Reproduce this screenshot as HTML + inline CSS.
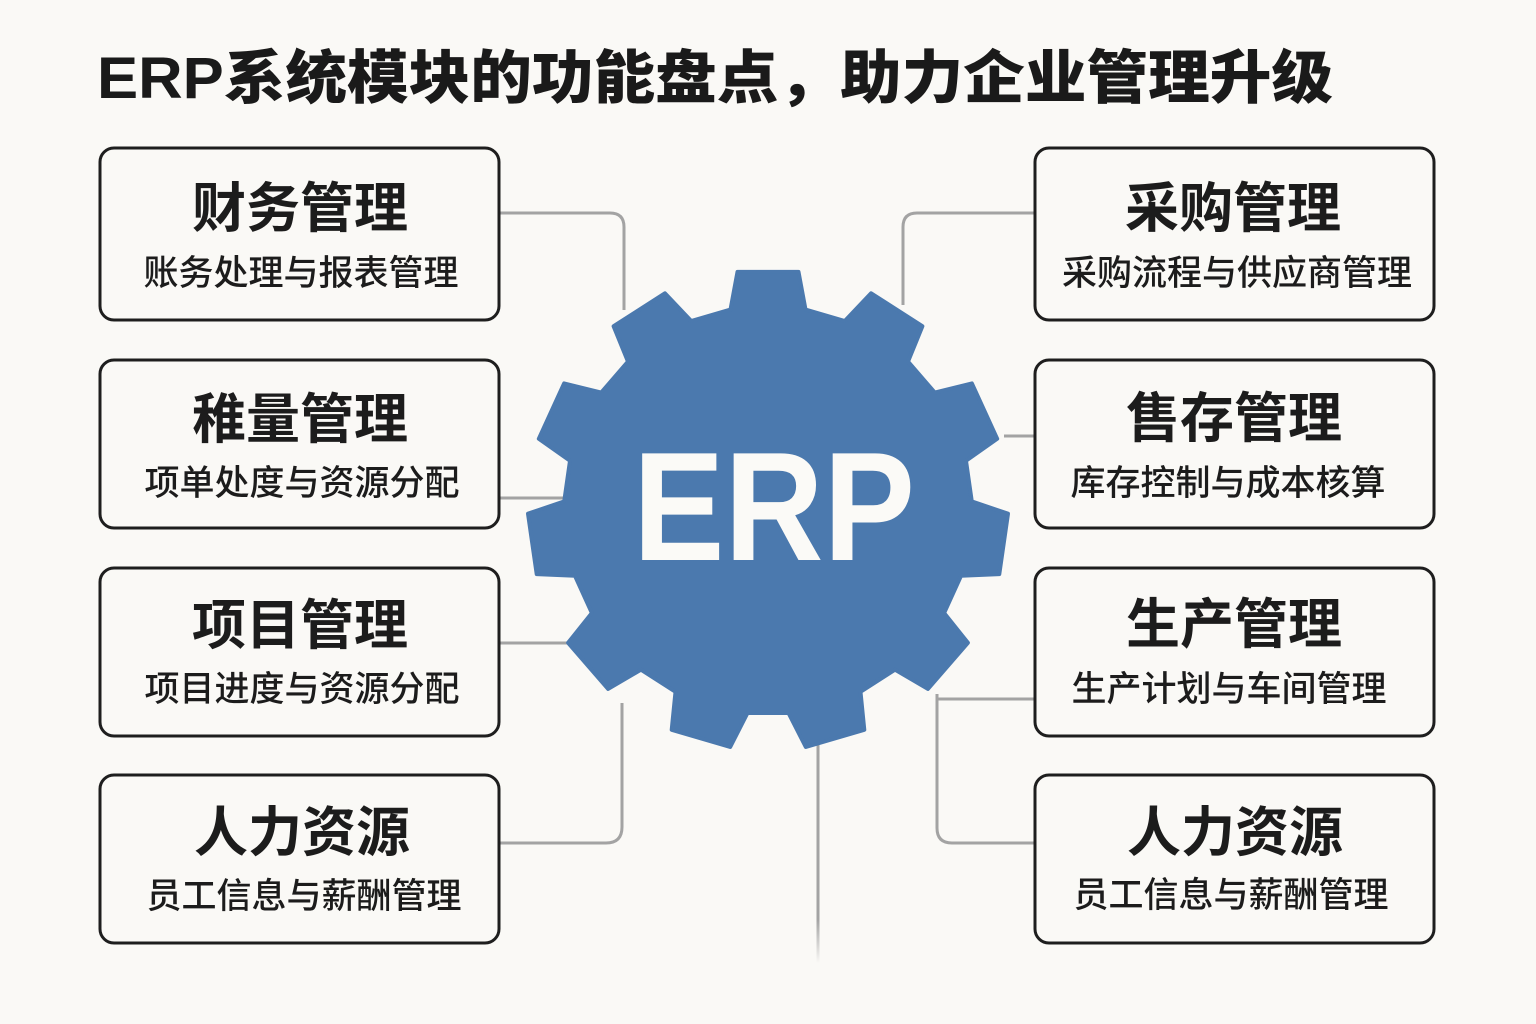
<!DOCTYPE html>
<html>
<head>
<meta charset="utf-8">
<style>
  html, body { margin: 0; padding: 0; background: #faf9f6; }
  body { width: 1536px; height: 1024px; overflow: hidden; }
  svg { display: block; }
  .bt { font-family: "Liberation Sans", "Noto Sans CJK SC", sans-serif; font-weight: 700; font-size: 54px; fill: #1c1c1c; }
  .st { font-family: "Liberation Sans", "Noto Sans CJK SC", sans-serif; font-weight: 500; font-size: 35px; fill: #1c1c1c; }
</style>
</head>
<body>
<svg width="1536" height="1024" viewBox="0 0 1536 1024" xmlns="http://www.w3.org/2000/svg">
  <defs>
    <linearGradient id="fade" x1="0" y1="0" x2="0" y2="1">
      <stop offset="0" stop-color="#a3a3a3" stop-opacity="1"/>
      <stop offset="0.8" stop-color="#a3a3a3" stop-opacity="1"/>
      <stop offset="1" stop-color="#a3a3a3" stop-opacity="0"/>
    </linearGradient>
  </defs>
  <rect x="0" y="0" width="1536" height="1024" fill="#faf9f6"/>

  <!-- Title -->
  <text x="97" y="98" textLength="1236" lengthAdjust="spacingAndGlyphs"
        style="font-family:'Liberation Sans','Noto Sans CJK SC',sans-serif;font-weight:900;font-size:58px;fill:#1a1a1a;">ERP系统模块的功能盘点，助力企业管理升级</text>

  <!-- Connectors -->
  <g fill="none" stroke="#a3a3a3" stroke-width="3" stroke-linecap="butt">
    <path d="M500 213 H610 Q624 213 624 227 V310"/>
    <path d="M500 498 H564"/>
    <path d="M500 643 H585"/>
    <path d="M500 843 H606 Q622 843 622 827 V703"/>
    <path d="M1035 213 H917 Q903 213 903 227 V305"/>
    <path d="M1004 436 H1035"/>
    <path d="M1035 699 H937"/>
    <path d="M937 694 V828 Q937 843 952 843 H1035"/>
  </g>
  <rect x="816.5" y="745" width="3" height="218" fill="url(#fade)"/>

  <!-- Gear -->
  <polygon fill="#4b79ae" stroke="#4b79ae" stroke-width="4" stroke-linejoin="round"
    points="730.5,309.5 737.5,271.9 798.5,271.9 805.5,309.5
            844.8,321.0 871.1,293.3 922.4,326.2 908.0,361.6
            934.8,392.6 971.9,383.4 997.2,438.8 966.0,460.8
            971.8,501.4 1008.0,513.7 999.3,574.1 961.1,575.7
            944.1,613.0 967.9,642.8 927.9,688.9 895.0,669.7
            860.5,691.8 864.3,729.8 805.8,747.0 788.5,713.0
            747.5,713.0 730.2,747.0 671.7,729.8 675.5,691.8
            641.0,669.7 608.1,688.9 568.1,642.8 591.9,613.0
            574.9,575.7 536.7,574.1 528.0,513.7 564.2,501.4
            570.0,460.8 538.8,438.8 564.1,383.4 601.2,392.6
            628.0,361.6 613.6,326.2 664.9,293.3 691.2,321.0"/>
  <text x="774" y="560" text-anchor="middle" textLength="282" lengthAdjust="spacingAndGlyphs"
        style="font-family:'Liberation Sans',sans-serif;font-weight:700;font-size:155px;fill:#fbfaf7;">ERP</text>

  <!-- Boxes -->
  <g fill="#faf9f6" stroke="#1e1e1e" stroke-width="3">
    <rect x="100" y="148" width="399" height="172" rx="14"/>
    <rect x="100" y="360" width="399" height="168" rx="14"/>
    <rect x="100" y="568" width="399" height="168" rx="14"/>
    <rect x="100" y="775" width="399" height="168" rx="14"/>
    <rect x="1035" y="148" width="399" height="172" rx="14"/>
    <rect x="1035" y="360" width="399" height="168" rx="14"/>
    <rect x="1035" y="568" width="399" height="168" rx="14"/>
    <rect x="1035" y="775" width="399" height="168" rx="14"/>
  </g>

  <!-- Left box texts -->
  <text class="bt" x="300" y="227" text-anchor="middle">财务管理</text>
  <text class="st" x="301" y="285" text-anchor="middle">账务处理与报表管理</text>

  <text class="bt" x="300" y="438" text-anchor="middle">稚量管理</text>
  <text class="st" x="302" y="495" text-anchor="middle">项单处度与资源分配</text>

  <text class="bt" x="300" y="644" text-anchor="middle">项目管理</text>
  <text class="st" x="302" y="701" text-anchor="middle">项目进度与资源分配</text>

  <text class="bt" x="302" y="851" text-anchor="middle">人力资源</text>
  <text class="st" x="304" y="908" text-anchor="middle">员工信息与薪酬管理</text>

  <!-- Right box texts -->
  <text class="bt" x="1233" y="227" text-anchor="middle">采购管理</text>
  <text class="st" x="1237" y="285" text-anchor="middle">采购流程与供应商管理</text>

  <text class="bt" x="1234" y="437" text-anchor="middle">售存管理</text>
  <text class="st" x="1228" y="495" text-anchor="middle">库存控制与成本核算</text>

  <text class="bt" x="1234" y="643" text-anchor="middle">生产管理</text>
  <text class="st" x="1229" y="701" text-anchor="middle">生产计划与车间管理</text>

  <text class="bt" x="1235" y="851" text-anchor="middle">人力资源</text>
  <text class="st" x="1231" y="907" text-anchor="middle">员工信息与薪酬管理</text>
</svg>
</body>
</html>
